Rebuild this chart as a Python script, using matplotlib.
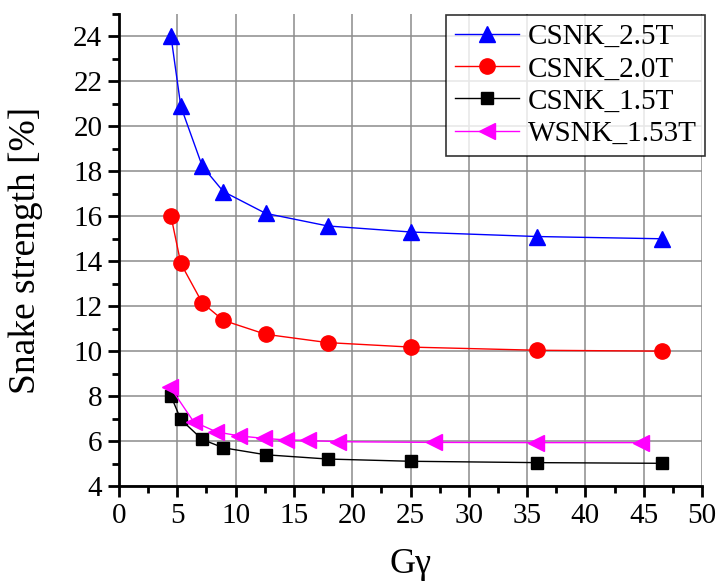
import matplotlib
matplotlib.use("Agg")
import matplotlib.pyplot as plt
from matplotlib.ticker import MultipleLocator

plt.rcParams['font.family'] = ['Liberation Serif', 'DejaVu Serif']
plt.rcParams['mathtext.fontset'] = 'stix'

gy_csnk = [4.46, 5.3, 7.14, 8.95, 12.58, 17.9, 25.04, 35.85, 46.55]
csnk_25 = [24.0, 20.89, 18.23, 17.1, 16.13, 15.57, 15.3, 15.1, 15.0]
csnk_20 = [16.0, 13.9, 12.15, 11.37, 10.75, 10.38, 10.18, 10.04, 10.0]
csnk_15 = [8.0, 6.96, 6.07, 5.7, 5.39, 5.2, 5.1, 5.04, 5.01]

gy_wsnk = [4.4, 6.4, 8.35, 10.3, 12.4, 14.3, 16.2, 18.8, 27.0, 35.8, 44.8]
wsnk_153 = [8.39, 6.86, 6.41, 6.23, 6.12, 6.05, 6.03, 5.97, 5.94, 5.93, 5.93]

fig = plt.figure(figsize=(7.2, 5.84), dpi=100)
ax = fig.add_axes([0.1653, 0.1678, 0.975 - 0.1653, 0.976 - 0.1678])

ax.plot(gy_csnk, csnk_25, color='blue', marker='^', markersize=11, lw=1, label='CSNK_2.5T')
ax.plot(gy_csnk, csnk_20, color='red', marker='o', markersize=11, lw=1, label='CSNK_2.0T')
ax.plot(gy_csnk, csnk_15, color='black', marker='s', markersize=9, lw=1, label='CSNK_1.5T')
ax.plot(gy_wsnk, wsnk_153, color='magenta', marker='<', markersize=11, lw=1, label='WSNK_1.53T')

ax.set_xlim(0, 50)
ax.set_ylim(4, 25)
ax.xaxis.set_major_locator(MultipleLocator(5))
ax.xaxis.set_minor_locator(MultipleLocator(2.5))
ax.yaxis.set_major_locator(MultipleLocator(2))
ax.yaxis.set_minor_locator(MultipleLocator(1))
ax.grid(True, which='major', color='#8c8c8c', lw=1.1)
ax.set_axisbelow(True)

for s in ['top', 'right']:
    ax.spines[s].set_visible(False)
for s in ['left', 'bottom']:
    ax.spines[s].set_linewidth(2)
ax.tick_params(which='major', direction='out', length=8, width=2, labelsize=21, pad=4)
ax.tick_params(which='minor', direction='out', length=5, width=2)
for lbl in ax.get_xticklabels() + ax.get_yticklabels():
    lbl.set_fontfamily(['Liberation Serif', 'DejaVu Serif'])

ax.set_xlabel('Gγ', fontsize=26, labelpad=14)
ax.set_ylabel('Snake strength [%]', fontsize=27, labelpad=22)

leg = ax.legend(loc='upper right', fontsize=21, frameon=True, fancybox=False,
                edgecolor='black', handlelength=2.2, borderpad=0.3,
                labelspacing=0.2, handletextpad=0.3, borderaxespad=0.0,
                bbox_to_anchor=(1.006, 0.998))
leg.get_frame().set_linewidth(1.2)

fig.savefig('out.png', dpi=100)
